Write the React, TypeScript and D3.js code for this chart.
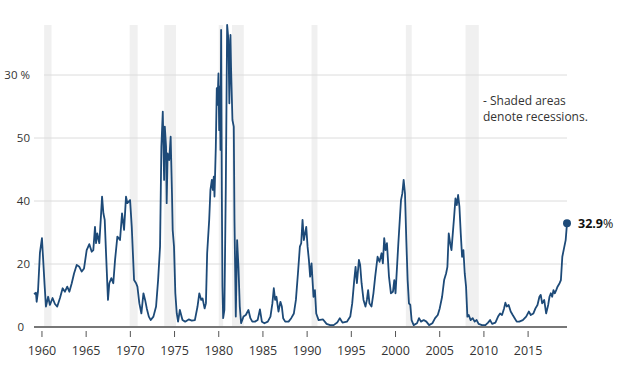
import * as d3 from "d3";

// decimal year, value (%)
const series: [number, number][] = [
  [1959.1, 10.5], [1959.32, 10.9], [1959.4, 8.0], [1959.55, 11.2], [1959.77, 23.5],
  [1960.0, 28.2], [1960.3, 13.3], [1960.45, 6.5], [1960.7, 9.6], [1960.9, 7.0],
  [1961.2, 9.2], [1961.47, 7.3], [1961.73, 6.5], [1962.04, 9.2], [1962.34, 12.3],
  [1962.6, 11.2], [1962.86, 12.8], [1963.1, 11.2], [1963.37, 13.9], [1963.63, 17.0],
  [1963.93, 19.7], [1964.23, 19.1], [1964.5, 17.6], [1964.76, 18.6], [1965.06, 24.4],
  [1965.36, 26.3], [1965.63, 23.9], [1965.81, 24.4], [1966.0, 31.8], [1966.12, 26.6],
  [1966.26, 29.7], [1966.49, 26.6], [1966.65, 34.0], [1966.8, 41.4], [1966.95, 36.1],
  [1967.1, 34.0], [1967.25, 23.4], [1967.47, 8.6], [1967.62, 13.9], [1967.85, 15.5],
  [1968.07, 13.9], [1968.27, 21.3], [1968.53, 28.7], [1968.83, 27.6], [1969.06, 36.1],
  [1969.29, 30.8], [1969.51, 41.4], [1969.66, 39.3], [1969.97, 40.3], [1970.16, 31.8],
  [1970.42, 14.9], [1970.65, 13.9], [1970.8, 12.8], [1971.02, 7.5], [1971.25, 4.3],
  [1971.48, 10.7], [1971.67, 8.6], [1971.86, 5.9], [1972.09, 3.3], [1972.31, 2.2],
  [1972.61, 3.3], [1972.91, 6.5], [1973.14, 14.9], [1973.36, 25.5], [1973.51, 57.2],
  [1973.67, 68.4], [1973.82, 46.7], [1973.9, 63.6], [1974.04, 57.2], [1974.11, 39.3],
  [1974.22, 55.1], [1974.4, 53.0], [1974.56, 60.4], [1974.71, 42.4], [1974.79, 30.8],
  [1974.94, 25.5], [1975.09, 10.7], [1975.25, 4.3], [1975.4, 1.7], [1975.6, 5.4],
  [1975.9, 2.2], [1976.2, 1.7], [1976.6, 2.4], [1976.95, 2.0], [1977.3, 2.2],
  [1977.6, 6.5], [1977.8, 10.7], [1978.02, 8.6], [1978.17, 9.1], [1978.4, 5.9],
  [1978.55, 7.5], [1978.69, 23.4], [1978.92, 34.0], [1979.06, 43.5], [1979.22, 46.7],
  [1979.33, 43.5], [1979.44, 47.7], [1979.52, 41.4], [1979.67, 57.2], [1979.78, 75.8],
  [1979.85, 70.5], [1979.97, 80.5], [1980.05, 62.5], [1980.12, 76.3], [1980.2, 56.2],
  [1980.27, 94.3], [1980.35, 42.4], [1980.42, 12.8], [1980.5, 2.8], [1980.64, 5.4],
  [1980.8, 44.5], [1980.95, 95.9], [1981.1, 91.1], [1981.2, 71.0], [1981.33, 92.7],
  [1981.4, 81.6], [1981.55, 65.7], [1981.7, 63.6], [1981.78, 34.0], [1981.93, 3.3],
  [1982.08, 27.6], [1982.23, 19.1], [1982.38, 6.5], [1982.53, 1.2], [1982.8, 3.3],
  [1983.06, 3.8], [1983.36, 5.4], [1983.58, 2.8], [1983.8, 1.7], [1984.1, 1.7],
  [1984.4, 2.2], [1984.66, 5.6], [1984.88, 1.7], [1985.17, 1.2], [1985.55, 1.7],
  [1985.85, 3.3], [1986.07, 7.5], [1986.23, 12.3], [1986.38, 8.6], [1986.53, 9.6],
  [1986.76, 4.9], [1986.98, 8.0], [1987.14, 6.5], [1987.29, 2.8], [1987.52, 1.7],
  [1987.9, 1.7], [1988.2, 2.8], [1988.5, 4.3], [1988.73, 8.6], [1988.96, 17.0],
  [1989.18, 25.5], [1989.33, 26.6], [1989.48, 34.0], [1989.63, 27.6], [1989.9, 31.8],
  [1990.05, 25.5], [1990.2, 21.3], [1990.34, 16.0], [1990.5, 20.2], [1990.72, 9.6],
  [1990.88, 11.7], [1991.03, 4.3], [1991.3, 2.2], [1991.8, 2.4], [1992.2, 1.0],
  [1992.6, 0.6], [1993.0, 0.6], [1993.4, 1.4], [1993.7, 2.8], [1994.0, 1.4],
  [1994.5, 1.7], [1994.88, 3.3], [1995.1, 7.5], [1995.33, 14.9], [1995.48, 19.1],
  [1995.63, 13.9], [1995.86, 21.3], [1996.0, 19.7], [1996.16, 13.9], [1996.38, 8.6],
  [1996.6, 6.5], [1996.76, 8.6], [1996.9, 11.7], [1997.05, 7.5], [1997.28, 6.5],
  [1997.5, 10.7], [1997.7, 16.0], [1997.97, 22.3], [1998.19, 20.7], [1998.42, 23.4],
  [1998.57, 20.2], [1998.72, 28.2], [1998.87, 24.4], [1999.03, 26.6], [1999.26, 16.0],
  [1999.48, 10.7], [1999.71, 11.2], [1999.86, 14.9], [2000.0, 10.7], [2000.17, 19.1],
  [2000.32, 26.6], [2000.62, 40.3], [2000.77, 42.4], [2000.92, 46.7], [2001.07, 42.4],
  [2001.22, 27.6], [2001.37, 14.9], [2001.52, 7.5], [2001.67, 7.0], [2001.82, 2.2],
  [2002.05, 0.6], [2002.43, 1.2], [2002.66, 2.8], [2002.88, 1.7], [2003.19, 2.2],
  [2003.49, 1.7], [2003.8, 0.6], [2004.17, 1.2], [2004.48, 2.8], [2004.78, 3.8],
  [2005.0, 5.9], [2005.27, 9.6], [2005.5, 14.9], [2005.72, 17.0], [2005.87, 19.1],
  [2006.02, 29.7], [2006.18, 26.6], [2006.33, 24.4], [2006.48, 29.7], [2006.63, 35.0],
  [2006.78, 40.8], [2006.93, 38.7], [2007.08, 41.9], [2007.23, 38.2], [2007.38, 29.7],
  [2007.53, 22.3], [2007.68, 24.4], [2007.83, 17.0], [2007.98, 12.8], [2008.13, 3.3],
  [2008.28, 3.8], [2008.5, 2.2], [2008.73, 2.8], [2008.95, 1.7], [2009.18, 2.2],
  [2009.4, 1.0], [2009.78, 0.6], [2010.17, 0.6], [2010.47, 1.4], [2010.7, 2.2],
  [2010.93, 1.0], [2011.3, 1.4], [2011.6, 3.3], [2011.83, 4.3], [2012.05, 3.8],
  [2012.28, 5.9], [2012.43, 7.7], [2012.58, 6.5], [2012.8, 7.0], [2013.03, 4.9],
  [2013.26, 3.8], [2013.48, 2.8], [2013.71, 1.7], [2014.0, 1.7], [2014.4, 2.2],
  [2014.78, 3.3], [2015.08, 4.9], [2015.3, 3.8], [2015.6, 4.3], [2015.83, 5.9],
  [2016.06, 7.0], [2016.28, 9.6], [2016.43, 10.2], [2016.59, 7.5], [2016.82, 8.6],
  [2017.04, 4.3], [2017.27, 7.0], [2017.42, 9.6], [2017.57, 10.7], [2017.72, 9.6],
  [2017.87, 11.7], [2018.02, 10.7], [2018.18, 11.7], [2018.33, 12.8], [2018.56, 13.9],
  [2018.71, 14.9], [2018.87, 22.3], [2019.1, 25.5], [2019.25, 27.6], [2019.4, 32.9],
];

const recessions: [number, number][] = [
  [1960.25, 1961.08], [1969.92, 1970.83], [1973.83, 1975.17], [1980.0, 1980.5],
  [1981.5, 1982.83], [1990.5, 1991.17], [2001.17, 2001.83], [2007.92, 2009.42],
];

const xTicks = [1960, 1965, 1970, 1975, 1980, 1985, 1990, 1995, 2000, 2005, 2010, 2015];
const yTicks = [0, 20, 40, 60, 80];
const yTickLabels = ["0", "20", "40", "50", "30"];
const lastLabel = "32.9";
const note = ["- Shaded areas", "denote recessions."];

const W = 625, H = 365;
const font = "'Open Sans', sans-serif";

export default function App() {
  const x = d3.scaleLinear().domain([1959.1, 2019.4]).range([34, 567]);
  const y = d3.scaleLinear().domain([0, 80]).range([327, 75]);
  const top = 25;

  const line = d3.line<[number, number]>()
    .x(d => x(d[0]))
    .y(d => y(d[1]))
    .curve(d3.curveLinear);

  const last = series[series.length - 1];

  return (
    <div style={{ position: "absolute", left: 0, top: 0 }}>
      <svg width={W} height={H} style={{ display: "block", fontFamily: font }}>
        <rect width={W} height={H} fill="#fff" />
        {recessions.map(([a, b], i) => (
          <rect key={i} x={x(a)} y={top} width={x(b) - x(a)} height={y(0) - top} fill="#f0f0f0" />
        ))}
        {yTicks.slice(1).map((t, i) => (
          <line key={t} x1={i === yTicks.length - 2 ? 44 : 34} x2={567} y1={y(t)} y2={y(t)}
            stroke="#dcdcdc" strokeWidth={1} />
        ))}
        {yTicks.map((t, i) => (
          <text key={t} x={t === 0 ? 24 : 30} y={y(t)} dy="0.35em" textAnchor="end"
            fontSize={11.5} fill="#333">
            {yTickLabels[i]}
            {i === yTicks.length - 1 && <tspan> %</tspan>}
          </text>
        ))}
        <path d={line(series) || ""} fill="none" stroke="#1d4a78" strokeWidth={1.8}
          strokeLinejoin="round" />
        <line x1={34} x2={567} y1={y(0)} y2={y(0)} stroke="#777" strokeWidth={2} />
        {xTicks.map(t => (
          <g key={t} transform={`translate(${x(t)},0)`}>
            <line y1={331} y2={337} stroke="#555" strokeWidth={1} />
            <text y={355} textAnchor="middle" fontSize={12.5} fill="#333">{t}</text>
          </g>
        ))}
        <circle cx={x(last[0])} cy={y(last[1])} r={4} fill="#1d4a78" />
        <text x={x(last[0]) + 11} y={y(last[1])} dy="0.35em" fontSize={12.5} fill="#111">
          <tspan fontWeight="bold">{lastLabel}</tspan>
          <tspan>%</tspan>
        </text>
        {note.map((s, i) => (
          <text key={i} x={483} y={105 + i * 16} fontSize={12} fill="#333">{s}</text>
        ))}
      </svg>
    </div>
  );
}
